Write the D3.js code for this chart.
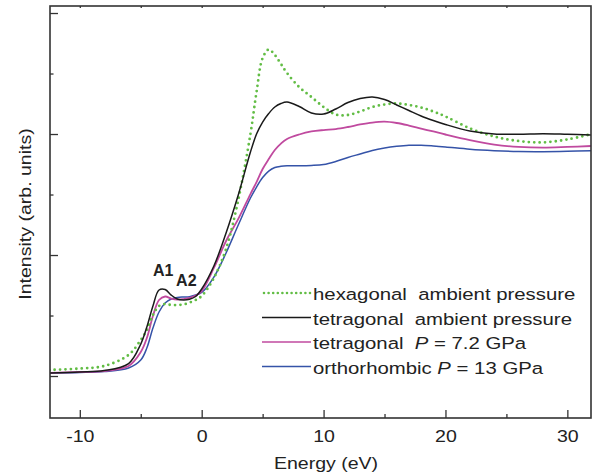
<!DOCTYPE html>
<html>
<head>
<meta charset="utf-8">
<script src="https://cdn.jsdelivr.net/npm/d3@7"></script>
<style>
  body { margin: 0; background: #fff; }
  svg text { font-family: "Liberation Sans", Arial, sans-serif; fill: #222; }
</style>
</head>
<body>
<svg id="chart" width="592" height="476"></svg>
<script>
// DATA

const energy = [-12.5, -10, -8, -6, -5, -4.5, -4, -3.5, -3, -2.5, -2, -1.5, -1, -0.5,
  0, 1, 2, 3, 4, 4.5, 5, 5.5, 6, 6.5, 7, 8, 9, 10, 11, 12, 13, 14, 15, 16, 17, 18, 19, 20,
  22, 24, 26, 28, 30, 32];

const hexagonal = [0.050, 0.062, 0.083, 0.174, 0.298, 0.380, 0.504, 0.579, 0.595, 0.587, 0.587, 0.591, 0.607, 0.628,
  0.661, 0.810, 1.050, 1.455, 2.000, 2.347, 2.628, 2.698, 2.653, 2.579, 2.504, 2.388, 2.306, 2.223, 2.161, 2.157,
  2.186, 2.223, 2.244, 2.252, 2.240, 2.219, 2.186, 2.145, 2.047, 1.979, 1.942, 1.931, 1.955, 2.000];

const tetraAmbient = [0.025, 0.033, 0.045, 0.103, 0.264, 0.405, 0.579, 0.711, 0.715, 0.669, 0.636, 0.628, 0.634, 0.657,
  0.719, 0.909, 1.182, 1.496, 1.851, 2.000, 2.099, 2.169, 2.223, 2.252, 2.264, 2.227, 2.174, 2.165, 2.207, 2.260,
  2.293, 2.306, 2.285, 2.240, 2.194, 2.149, 2.112, 2.079, 2.025, 2.000, 1.998, 2.003, 1.998, 1.992];

const tetra72 = [0.025, 0.033, 0.041, 0.083, 0.198, 0.314, 0.496, 0.628, 0.657, 0.640, 0.632, 0.636, 0.645, 0.665,
  0.702, 0.893, 1.116, 1.298, 1.504, 1.603, 1.711, 1.793, 1.868, 1.921, 1.959, 1.996, 2.021, 2.033, 2.041, 2.058,
  2.079, 2.095, 2.102, 2.091, 2.070, 2.045, 2.021, 1.996, 1.950, 1.913, 1.893, 1.887, 1.893, 1.901];

const ortho13 = [0.025, 0.029, 0.037, 0.066, 0.132, 0.231, 0.397, 0.529, 0.603, 0.636, 0.649, 0.653, 0.655, 0.669,
  0.690, 0.818, 1.017, 1.248, 1.471, 1.562, 1.640, 1.694, 1.723, 1.733, 1.737, 1.737, 1.740, 1.748, 1.773, 1.806,
  1.835, 1.864, 1.884, 1.898, 1.907, 1.907, 1.901, 1.893, 1.874, 1.862, 1.855, 1.854, 1.857, 1.862];

// legend label pieces: [before, italic, after]
const legendLabels = [
  ["hexagonal  ambient pressure", "", ""],
  ["tetragonal  ambient pressure", "", ""],
  ["tetragonal  ", "P", " = 7.2 GPa"],
  ["orthorhombic ", "P", " = 13 GPa"],
];

const xMajorTicks = [-10, 0, 10, 20, 30];
const xMinorTicks = [-5, 5, 15, 25];
const xTopTicks = [-10, -5, 0, 5, 10, 15, 20, 25, 30];
const yMajorTicks = [0, 1, 2, 3];
const yMinorTicks = [0.5, 1.5, 2.5];

const peakLabels = [{ text: "A1", e: -4.0, v: 0.83 }, { text: "A2", e: -2.1, v: 0.74 }];

// STYLES

const seriesStyle = [
  { values: hexagonal,    color: "#62bd45", width: 2.8, dash: "0,5.4", cap: "round" },
  { values: tetraAmbient, color: "#1a1a1a", width: 1.5, dash: null,    cap: "butt" },
  { values: tetra72,      color: "#c04a9f", width: 1.8, dash: null,    cap: "butt" },
  { values: ortho13,      color: "#3553a8", width: 1.5, dash: null,    cap: "butt" },
];

const STRETCH = 1.15; // reference font is a touch wider than Liberation Sans
const plot = { left: 50, top: 6, right: 591, bottom: 418 };

// SCALES

const x = d3.scaleLinear().domain([-12.445, 31.94]).range([plot.left, plot.right]);
const y = d3.scaleLinear().domain([-0.347, 3.058]).range([plot.bottom, plot.top]);

const svg = d3.select("#chart");

svg.append("clipPath").attr("id", "clip")
  .append("rect")
  .attr("x", plot.left).attr("y", plot.top)
  .attr("width", plot.right - plot.left).attr("height", plot.bottom - plot.top);

// CURVES

const line = d3.line()
  .x((d) => x(d[0]))
  .y((d) => y(d[1]))
  .curve(d3.curveCatmullRom.alpha(0.5));

const curves = svg.append("g").attr("clip-path", "url(#clip)");

// draw back to front so the black line sits on top like the original
[3, 2, 0, 1].forEach((si) => {
  const s = seriesStyle[si];
  curves.append("path")
    .datum(energy.map((e, i) => [e, s.values[i]]))
    .attr("d", line)
    .attr("fill", "none")
    .attr("stroke", s.color)
    .attr("stroke-width", s.width)
    .attr("stroke-linecap", s.cap)
    .attr("stroke-dasharray", s.dash);
});

// AXES

function styleAxis(g) {
  g.select(".domain").remove();
  g.selectAll(".tick line").attr("stroke", "#333").attr("stroke-width", 1.3);
  g.selectAll(".tick text")
    .attr("font-size", 17)
    .attr("fill", "#222")
    .attr("font-family", "Liberation Sans, Arial, sans-serif")
    .attr("transform", `scale(${STRETCH},1)`);
}

svg.append("g")
  .attr("transform", `translate(0,${plot.bottom})`)
  .call(d3.axisBottom(x).tickValues(xMajorTicks).tickSizeInner(-8).tickSizeOuter(0)
    .tickPadding(12).tickFormat((d) => String(d)))
  .call(styleAxis);

svg.append("g")
  .attr("transform", `translate(0,${plot.bottom})`)
  .call(d3.axisBottom(x).tickValues(xMinorTicks).tickSizeInner(-4).tickSizeOuter(0).tickFormat(""))
  .call(styleAxis);

svg.append("g")
  .attr("transform", `translate(0,${plot.top})`)
  .call(d3.axisTop(x).tickValues(xTopTicks).tickSizeInner(-2).tickSizeOuter(0).tickFormat(""))
  .call(styleAxis);

svg.append("g")
  .attr("transform", `translate(${plot.left},0)`)
  .call(d3.axisLeft(y).tickValues(yMajorTicks).tickSizeInner(-8).tickSizeOuter(0).tickFormat(""))
  .call(styleAxis);

svg.append("g")
  .attr("transform", `translate(${plot.left},0)`)
  .call(d3.axisLeft(y).tickValues(yMinorTicks).tickSizeInner(-3.5).tickSizeOuter(0).tickFormat(""))
  .call(styleAxis);

// frame
svg.append("rect")
  .attr("x", plot.left).attr("y", plot.top)
  .attr("width", plot.right - plot.left).attr("height", plot.bottom - plot.top)
  .attr("fill", "none").attr("stroke", "#333").attr("stroke-width", 1.6);

// AXIS TITLES

svg.append("text")
  .attr("transform", `translate(326,469) scale(${STRETCH},1)`)
  .attr("text-anchor", "middle")
  .attr("font-size", 17)
  .text("Energy (eV)");

svg.append("text")
  .attr("transform", `translate(31,214) rotate(-90) scale(${STRETCH},1)`)
  .attr("text-anchor", "middle")
  .attr("font-size", 17)
  .text("Intensity (arb. units)");

// PEAK LABELS

peakLabels.forEach((p) => {
  svg.append("text")
    .attr("x", x(p.e)).attr("y", y(p.v))
    .attr("font-size", 16)
    .attr("font-weight", "bold")
    .text(p.text);
});

// LEGEND

const legend = svg.append("g").attr("transform", "translate(262,293)");
const rowGap = 24.5;

seriesStyle.forEach((s, i) => {
  const row = legend.append("g").attr("transform", `translate(0,${i * rowGap})`);
  row.append("line")
    .attr("x1", i === 0 ? 2 : 0).attr("x2", 49)
    .attr("stroke", s.color)
    .attr("stroke-width", i === 0 ? 2.6 : 1.5)
    .attr("stroke-linecap", s.cap)
    .attr("stroke-dasharray", i === 0 ? "0,4.6" : null);

  const [pre, ital, post] = legendLabels[i];
  const t = row.append("text")
    .attr("transform", `translate(51,7) scale(1.17,1)`)
    .attr("font-size", 17.4)
    .style("white-space", "pre");
  t.append("tspan").text(pre);
  if (ital) {
    t.append("tspan").attr("font-style", "italic").text(ital);
    t.append("tspan").text(post);
  }
});
</script>
</body>
</html>
